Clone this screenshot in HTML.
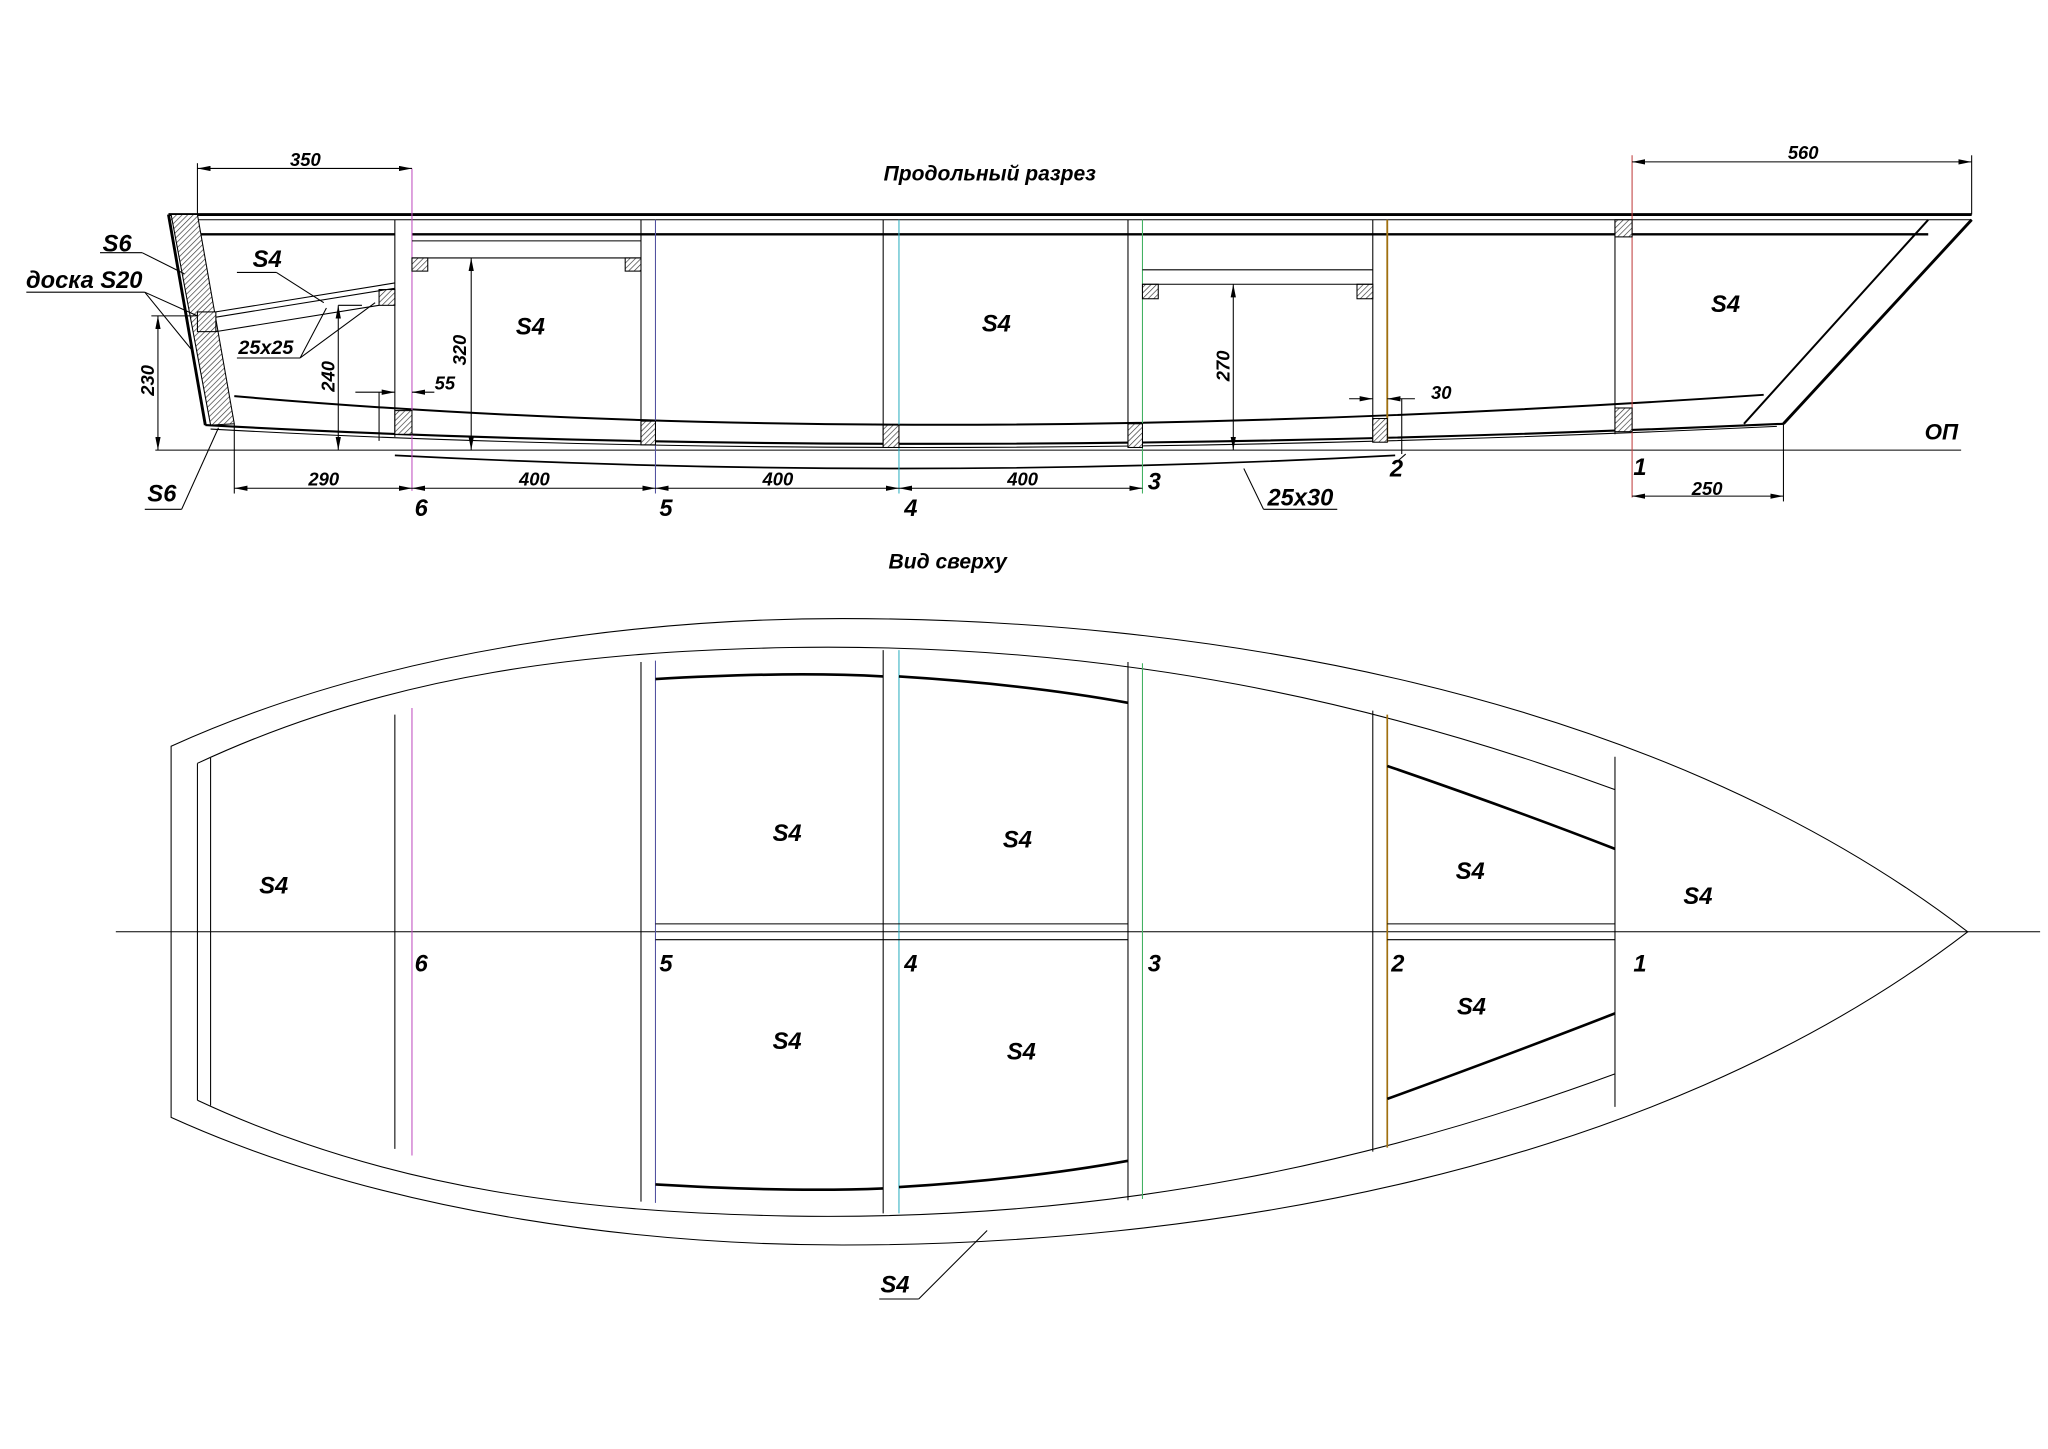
<!DOCTYPE html>
<html><head><meta charset="utf-8"><style>
html,body{margin:0;padding:0;background:#fff}
svg{display:block}
text{font-family:"Liberation Sans",sans-serif;font-style:italic;font-weight:bold;fill:#000}
</style></head><body>
<svg width="2048" height="1449" viewBox="0 0 1556 1101" preserveAspectRatio="none" xmlns="http://www.w3.org/2000/svg">
<defs>
<pattern id="h" width="3" height="3" patternUnits="userSpaceOnUse" patternTransform="rotate(45)">
<rect width="3" height="3" fill="#fff"/><line x1="0" y1="0" x2="0" y2="3" stroke="#333" stroke-width="1"/></pattern>
<marker id="a" viewBox="0 0 10 4" refX="10" refY="2" markerWidth="10" markerHeight="4" orient="auto-start-reverse" markerUnits="userSpaceOnUse"><path d="M0,0L10,2L0,4z" fill="#000"/></marker>
</defs>
<rect width="1556" height="1101" fill="#fff"/>
<g stroke="#000" fill="none" stroke-width="0.8">
<text x="752" y="137" font-size="16" text-anchor="middle" stroke="none">Продольный разрез</text>
<line x1="128" y1="163" x2="1498" y2="163" stroke-width="2.2"/>
<line x1="130" y1="167" x2="1498" y2="167"/>
<line x1="150" y1="178" x2="300" y2="178" stroke-width="1.8"/>
<line x1="313" y1="178" x2="1465" y2="178" stroke-width="1.8"/>
<polygon points="130,163 150,163 178,322 160,323" fill="url(#h)" stroke-width="0.8"/>
<line x1="128" y1="163" x2="156" y2="323" stroke-width="2.2"/>
<path d="M156,323 Q680,352 1355,322" stroke-width="1.6"/>
<path d="M160,326 Q680,355 1350,324"/>
<path d="M178,301 Q680,345 1340,300" stroke-width="1.5"/>
<path d="M300,346 Q690,366 1060,346" stroke-width="1.3"/>
<line x1="1498" y1="167" x2="1355" y2="322" stroke-width="2.2"/>
<line x1="1465" y1="167" x2="1325" y2="322" stroke-width="1.5"/>
<line x1="118" y1="342" x2="1490" y2="342"/>
<text x="1475" y="334" font-size="17" text-anchor="middle" stroke="none">ОП</text>
<g stroke-width="0.8">
<line x1="300" y1="167" x2="300" y2="332"/><line x1="313" y1="128" x2="313" y2="373" stroke="#c050c0"/>
<line x1="487" y1="167" x2="487" y2="338"/><line x1="498" y1="167" x2="498" y2="375" stroke="#5050a0"/>
<line x1="671" y1="167" x2="671" y2="340"/><line x1="683" y1="167" x2="683" y2="375" stroke="#30b0c0"/>
<line x1="857" y1="167" x2="857" y2="340"/><line x1="868" y1="167" x2="868" y2="375" stroke="#40b060"/>
<line x1="1043" y1="167" x2="1043" y2="336"/><line x1="1054" y1="167" x2="1054" y2="336" stroke="#a07010" stroke-width="1.4"/>
<line x1="1227" y1="167" x2="1227" y2="330"/><line x1="1240" y1="118" x2="1240" y2="378" stroke="#c04040"/>
</g>
<g fill="url(#h)">
<rect x="300" y="312" width="13" height="18"/><rect x="487" y="320" width="11" height="18"/>
<rect x="671" y="323" width="12" height="17"/><rect x="857" y="322" width="11" height="18"/>
<rect x="1043" y="318" width="11" height="18"/><rect x="1227" y="310" width="13" height="18"/>
<rect x="1227" y="167" width="13" height="13"/>
<rect x="313" y="196" width="12" height="10"/><rect x="475" y="196" width="12" height="10"/>
<rect x="868" y="216" width="12" height="11"/><rect x="1031" y="216" width="12" height="11"/>
<rect x="150" y="237" width="14" height="15"/><rect x="288" y="220" width="12" height="12"/>
</g>
<line x1="313" y1="183" x2="487" y2="183"/><line x1="313" y1="196" x2="487" y2="196"/>
<line x1="868" y1="205" x2="1043" y2="205"/><line x1="868" y1="216" x2="1043" y2="216"/>
<line x1="164" y1="237" x2="300" y2="215"/><line x1="164" y1="241" x2="300" y2="219"/>
<line x1="164" y1="252" x2="288" y2="232"/>
<line x1="150" y1="128" x2="313" y2="128" marker-start="url(#a)" marker-end="url(#a)"/>
<line x1="150" y1="124" x2="150" y2="163"/>
<text x="232" y="126" font-size="14" text-anchor="middle" stroke="none">350</text>
<line x1="1240" y1="123" x2="1498" y2="123" marker-start="url(#a)" marker-end="url(#a)"/>
<line x1="1498" y1="118" x2="1498" y2="163"/>
<text x="1370" y="121" font-size="14" text-anchor="middle" stroke="none">560</text>
<line x1="358" y1="196" x2="358" y2="342" marker-start="url(#a)" marker-end="url(#a)"/>
<text transform="translate(354,266) rotate(-90)" font-size="14" text-anchor="middle" stroke="none">320</text>
<line x1="937" y1="216" x2="937" y2="342" marker-start="url(#a)" marker-end="url(#a)"/>
<text transform="translate(934,278) rotate(-90)" font-size="14" text-anchor="middle" stroke="none">270</text>
<line x1="257" y1="232" x2="257" y2="342" marker-start="url(#a)" marker-end="url(#a)"/>
<line x1="257" y1="232" x2="275" y2="232"/>
<text transform="translate(254,286) rotate(-90)" font-size="14" text-anchor="middle" stroke="none">240</text>
<line x1="120" y1="240" x2="120" y2="342" marker-start="url(#a)" marker-end="url(#a)"/>
<line x1="115" y1="240" x2="150" y2="240"/>
<text transform="translate(117,289) rotate(-90)" font-size="14" text-anchor="middle" stroke="none">230</text>
<line x1="270" y1="298" x2="300" y2="298" marker-end="url(#a)"/><line x1="330" y1="298" x2="313" y2="298" marker-end="url(#a)"/>
<line x1="288" y1="298" x2="288" y2="335"/>
<text x="338" y="296" font-size="14" text-anchor="middle" stroke="none">55</text>
<line x1="1025" y1="303" x2="1043" y2="303" marker-end="url(#a)"/><line x1="1075" y1="303" x2="1054" y2="303" marker-end="url(#a)"/>
<line x1="1065" y1="303" x2="1065" y2="345"/>
<text x="1095" y="303" font-size="14" text-anchor="middle" stroke="none">30</text>
<line x1="178" y1="322" x2="178" y2="375"/>
<line x1="178" y1="371" x2="313" y2="371" marker-start="url(#a)" marker-end="url(#a)"/>
<line x1="313" y1="371" x2="498" y2="371" marker-start="url(#a)" marker-end="url(#a)"/>
<line x1="498" y1="371" x2="683" y2="371" marker-start="url(#a)" marker-end="url(#a)"/>
<line x1="683" y1="371" x2="868" y2="371" marker-start="url(#a)" marker-end="url(#a)"/>
<text x="246" y="369" font-size="14" text-anchor="middle" stroke="none">290</text>
<text x="406" y="369" font-size="14" text-anchor="middle" stroke="none">400</text>
<text x="591" y="369" font-size="14" text-anchor="middle" stroke="none">400</text>
<text x="777" y="369" font-size="14" text-anchor="middle" stroke="none">400</text>
<line x1="1355" y1="322" x2="1355" y2="381"/>
<line x1="1240" y1="377" x2="1355" y2="377" marker-start="url(#a)" marker-end="url(#a)"/>
<text x="1297" y="376" font-size="14" text-anchor="middle" stroke="none">250</text>
<g font-size="18" stroke="none">
<text x="320" y="392" text-anchor="middle">6</text><text x="506" y="392" text-anchor="middle">5</text>
<text x="692" y="392" text-anchor="middle">4</text><text x="877" y="372" text-anchor="middle">3</text>
<text x="1061" y="362" text-anchor="middle">2</text><text x="1246" y="361" text-anchor="middle">1</text>
<text x="203" y="203" text-anchor="middle">S4</text><text x="403" y="254" text-anchor="middle">S4</text>
<text x="757" y="252" text-anchor="middle">S4</text><text x="1311" y="237" text-anchor="middle">S4</text>
<text x="89" y="191" text-anchor="middle">S6</text><text x="64" y="219" text-anchor="middle">доска S20</text>
<text x="123" y="381" text-anchor="middle">S6</text>
<text x="988" y="384" text-anchor="middle">25x30</text>
</g>
<text x="202" y="269" font-size="15" text-anchor="middle" stroke="none">25x25</text>
<line x1="180" y1="207" x2="210" y2="207"/><line x1="210" y1="207" x2="246" y2="230"/>
<line x1="76" y1="192" x2="108" y2="192"/><line x1="108" y1="192" x2="140" y2="208"/>
<line x1="20" y1="222" x2="110" y2="222"/><line x1="110" y1="222" x2="150" y2="240"/><line x1="110" y1="222" x2="145" y2="265"/>
<line x1="180" y1="272" x2="228" y2="272"/><line x1="228" y1="272" x2="248" y2="234"/><line x1="228" y1="272" x2="285" y2="230"/>
<line x1="110" y1="387" x2="138" y2="387"/><line x1="138" y1="387" x2="166" y2="325"/>
<line x1="960" y1="387" x2="1016" y2="387"/><line x1="960" y1="387" x2="945" y2="356"/>
<line x1="1060" y1="352" x2="1068" y2="345"/>
<text x="720" y="432" font-size="16" text-anchor="middle" stroke="none">Вид сверху</text>
<line x1="88" y1="708" x2="1550" y2="708"/>
<path d="M130,567 C300,490 500,470 640,470 C900,470 1250,520 1495,708 C1250,896 900,946 640,946 C500,946 300,926 130,849 Z"/>
<path d="M150,580 C300,510 450,495 600,492 C850,488 1050,535 1227,600"/>
<path d="M150,836 C300,906 450,921 600,924 C850,928 1050,881 1227,816"/>
<line x1="150" y1="580" x2="150" y2="836"/>
<line x1="160" y1="576" x2="160" y2="840"/>
<line x1="300" y1="543" x2="300" y2="873"/><line x1="313" y1="538" x2="313" y2="878" stroke="#c050c0"/>
<line x1="487" y1="503" x2="487" y2="913"/><line x1="498" y1="502" x2="498" y2="914" stroke="#5050a0"/>
<line x1="671" y1="494" x2="671" y2="922"/><line x1="683" y1="494" x2="683" y2="922" stroke="#30b0c0"/>
<line x1="857" y1="503" x2="857" y2="912"/><line x1="868" y1="504" x2="868" y2="911" stroke="#40b060"/>
<line x1="1043" y1="540" x2="1043" y2="875"/><line x1="1054" y1="543" x2="1054" y2="872" stroke="#a07010" stroke-width="1.3"/>
<line x1="1227" y1="575" x2="1227" y2="841"/>
<line x1="498" y1="702" x2="857" y2="702"/><line x1="498" y1="714" x2="857" y2="714"/>
<line x1="1054" y1="702" x2="1227" y2="702"/><line x1="1054" y1="714" x2="1227" y2="714"/>
<path d="M498,516 Q600,510 671,514 M683,514 Q780,520 857,534" stroke-width="2"/>
<path d="M498,900 Q600,906 671,903 M683,902 Q780,896 857,882" stroke-width="2"/>
<path d="M1054,582 Q1150,615 1227,645" stroke-width="2"/>
<path d="M1054,835 Q1150,800 1227,770" stroke-width="2"/>
<g font-size="18" stroke="none">
<text x="208" y="679" text-anchor="middle">S4</text><text x="598" y="639" text-anchor="middle">S4</text>
<text x="773" y="644" text-anchor="middle">S4</text><text x="1117" y="668" text-anchor="middle">S4</text>
<text x="1290" y="687" text-anchor="middle">S4</text><text x="598" y="797" text-anchor="middle">S4</text>
<text x="776" y="805" text-anchor="middle">S4</text><text x="1118" y="771" text-anchor="middle">S4</text>
<text x="680" y="982" text-anchor="middle">S4</text>
<text x="320" y="738" text-anchor="middle">6</text><text x="506" y="738" text-anchor="middle">5</text>
<text x="692" y="738" text-anchor="middle">4</text><text x="877" y="738" text-anchor="middle">3</text>
<text x="1062" y="738" text-anchor="middle">2</text><text x="1246" y="738" text-anchor="middle">1</text>
</g>
<line x1="668" y1="987" x2="698" y2="987"/><line x1="698" y1="987" x2="750" y2="935"/>
</g>
</svg>
</body></html>
